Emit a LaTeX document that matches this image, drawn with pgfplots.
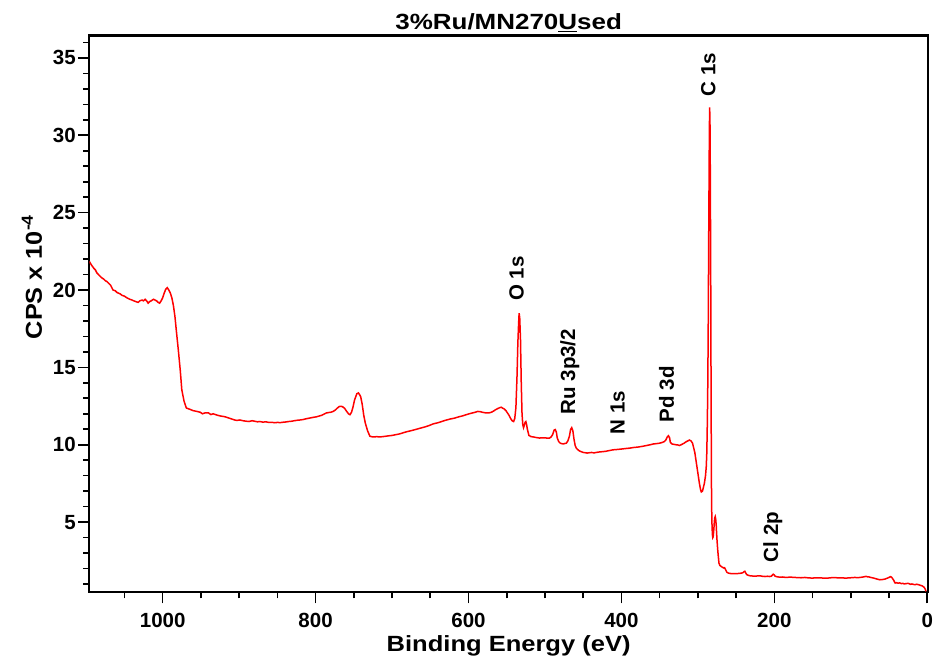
\documentclass[border=0pt]{standalone}
\usepackage{fontspec}
\setmainfont{Liberation Sans}
\usepackage{graphicx}
\usepackage{pgfplots}
\pgfplotsset{compat=1.18}
\begin{document}
\begin{tikzpicture}
\begin{axis}[
  name=ax,
  scale only axis,
  width=838.7pt, height=556.8pt,
  xmin=-1, xmax=1096, x dir=reverse,
  ymin=0.46, ymax=36.45,
  xtick={0,200,...,1000},
  minor xtick={0,50,...,1050},
  ytick={5,10,...,35},
  minor ytick={1,2,...,36},
  tick pos=left,
  tick align=outside,
  major tick length=11pt,
  minor tick length=6pt,
  every tick/.style={black, line width=1.6pt},
  axis line style={line width=2.2pt},
  /pgf/number format/assume math mode=true,
  /pgf/number format/1000 sep={},
  ticklabel style={font=\bfseries\fontsize{20.5}{24}\selectfont},
  xticklabel style={yshift=-6pt},
  yticklabel style={xshift=1pt},
  xlabel={\scalebox{1.16}[1]{Binding Energy (eV)}},
  ylabel={\scalebox{1.1}[1]{CPS x 10\textsuperscript{-4}}},
  xlabel style={font=\bfseries\fontsize{22}{24}\selectfont, yshift=-1pt},
  ylabel style={font=\bfseries\fontsize{23}{24}\selectfont, yshift=4pt, xshift=37pt},
  title={\scalebox{1.18}[1]{3\%Ru/MN270\underline{U}sed}},
  title style={font=\bfseries\fontsize{22}{22}\selectfont, yshift=-6pt},
]
\addplot[red, line width=1.5pt] coordinates {
(1096,21.85)(1093,21.6)(1090,21.4)(1088,21.3)(1086,21.1)(1083,20.95)(1080,20.8)(1077,20.7)(1075,20.6)(1073,20.55)(1071,20.45)(1068,20.3)(1065,20.0)(1062,19.95)(1060,19.85)(1058,19.8)(1056,19.76)(1053,19.65)(1050,19.6)(1047,19.5)(1043,19.4)(1040,19.35)(1038,19.3)(1035,19.25)(1032,19.2)(1030,19.3)(1027,19.35)(1025,19.3)(1023,19.4)(1021,19.3)(1019,19.15)(1017,19.25)(1015,19.3)(1012,19.4)(1010,19.35)(1008,19.3)(1006,19.2)(1004,19.15)(1002,19.3)(1000,19.5)(998,19.8)(996,20.05)(994,20.15)(992,20.0)(990,19.8)(988,19.5)(986,19.0)(984,18.3)(982,17.3)(979.5,16.1)(977,14.8)(975,13.55)(972,12.8)(969,12.37)(965,12.3)(960,12.2)(955,12.15)(951,12.1)(948,12.0)(945,12.05)(940,12.05)(937,11.95)(934,12.0)(928,11.9)(924,11.85)(921,11.83)(918,11.8)(915,11.75)(912,11.7)(909,11.65)(906,11.6)(903,11.57)(899,11.6)(895,11.55)(891,11.52)(887,11.5)(883,11.55)(880,11.52)(876,11.48)(873,11.5)(869,11.46)(865,11.48)(861,11.44)(857,11.45)(854,11.42)(850,11.44)(846,11.43)(843,11.45)(839,11.47)(835,11.5)(831,11.52)(828,11.55)(824,11.58)(820,11.6)(816,11.63)(812,11.68)(808,11.72)(805,11.75)(802,11.78)(799,11.8)(795,11.86)(792,11.9)(789,11.98)(786,12.05)(783,12.08)(780,12.1)(777,12.15)(774,12.25)(772,12.35)(769,12.47)(766,12.48)(764,12.43)(762,12.35)(760,12.2)(757,12.0)(755,11.94)(753,12.1)(751,12.45)(749,12.9)(746,13.3)(744,13.35)(742,13.2)(741,13.1)(739,12.6)(737,11.9)(735,11.4)(732,10.9)(729,10.55)(725,10.5)(720,10.52)(716,10.5)(711,10.53)(705,10.57)(700,10.6)(695,10.65)(690,10.7)(685,10.78)(680,10.85)(674,10.92)(668,11.0)(663,11.07)(657,11.15)(651,11.25)(646,11.35)(640,11.42)(635,11.5)(630,11.58)(624,11.66)(618,11.72)(613,11.8)(608,11.86)(603,11.94)(599,12.0)(595,12.05)(591,12.1)(588,12.15)(585,12.14)(582,12.1)(579,12.07)(576,12.05)(573,12.06)(570,12.1)(567,12.18)(565,12.25)(562,12.33)(559,12.4)(557,12.42)(555,12.35)(553,12.3)(551,12.2)(549,12.05)(547,11.9)(545,11.7)(543,11.55)(541,11.5)(539.5,11.7)(538,12.4)(536.5,14.5)(535.5,16.5)(534.5,17.8)(533.8,18.5)(533,18.2)(532,16.8)(531,14.0)(530,12.0)(529,11.3)(528,11.1)(527,11.25)(526,11.45)(525,11.5)(524,11.3)(523,11.0)(521,10.6)(518,10.52)(515,10.5)(511,10.46)(507,10.43)(503,10.45)(500,10.45)(497,10.42)(494,10.43)(492,10.5)(490,10.65)(488,10.95)(486.5,10.98)(485,10.8)(484,10.45)(482,10.2)(480,10.1)(478,10.07)(476,10.05)(474,10.08)(472,10.1)(470,10.25)(468,10.55)(466.5,10.98)(465,11.1)(463.5,10.9)(462,10.35)(460.5,9.95)(459,9.78)(457,9.68)(455,9.6)(452,9.54)(450,9.5)(447,9.48)(445,9.46)(442,9.48)(439,9.5)(436,9.47)(433,9.5)(429,9.53)(425,9.55)(421,9.57)(418,9.6)(414,9.64)(411,9.67)(406,9.69)(400,9.72)(395,9.75)(389,9.78)(384,9.82)(378,9.85)(372,9.9)(367,9.95)(362,10.0)(358,10.05)(354,10.07)(350,10.1)(347,10.14)(344,10.2)(342,10.3)(340,10.5)(338.5,10.58)(337,10.45)(336,10.15)(334,10.05)(331,10.02)(329,10.0)(326,9.98)(324,9.95)(321,10.02)(318,10.1)(315,10.2)(313,10.25)(311,10.3)(309,10.25)(307,10.1)(305.5,9.8)(304,9.5)(302.5,9.0)(301,8.5)(299.5,8.0)(298,7.5)(296.5,7.1)(295.5,6.95)(294,7.0)(293,7.2)(291.5,7.5)(290,8.0)(289,8.6)(288.3,9.5)(287.6,11.5)(287,14)(286.4,18)(286,22)(285.5,26)(285,30)(284.6,31.8)(284.2,31)(284,30)(283.6,26)(283.2,21)(282.9,16)(282.6,12)(282.3,8)(282,6)(281.5,4.8)(281,4.2)(280.5,4.0)(280,4.05)(279.5,4.3)(279,4.6)(278.5,5.0)(278,5.25)(277.3,5.35)(276.7,5.2)(276,4.8)(275.5,4.3)(275,3.86)(274.2,3.3)(273.5,2.9)(272.4,2.35)(271.3,2.2)(270,2.15)(268,2.08)(266,2.03)(265,2.05)(264,1.95)(263,1.85)(262,1.75)(260,1.7)(258,1.68)(255,1.66)(252,1.66)(249,1.67)(246,1.68)(243,1.7)(241,1.73)(239.5,1.8)(238.5,1.82)(237.3,1.7)(236,1.6)(234,1.56)(232,1.53)(228,1.51)(225,1.5)(222,1.52)(218,1.52)(215,1.49)(212,1.48)(209,1.5)(206,1.48)(204,1.5)(203,1.55)(201.5,1.63)(200,1.58)(199,1.5)(196,1.46)(193,1.44)(189,1.45)(185,1.42)(180,1.44)(175,1.43)(170,1.41)(165,1.4)(160,1.42)(155,1.39)(150,1.38)(145,1.4)(140,1.4)(135,1.37)(130,1.38)(124,1.41)(118,1.4)(112,1.39)(106,1.38)(100,1.4)(95,1.42)(90,1.41)(85,1.44)(82,1.47)(80,1.49)(78,1.46)(76,1.45)(73,1.41)(70,1.38)(66,1.32)(62,1.27)(58,1.29)(55,1.32)(52,1.38)(50,1.42)(48,1.47)(46.5,1.43)(45,1.32)(44,1.25)(43,1.15)(42,1.06)(40,1.08)(38,1.05)(36,1.07)(34,1.02)(32,1.04)(30,1.0)(28,1.02)(25,1.04)(22,0.98)(20,1.0)(18,0.97)(16,0.95)(14,0.98)(12,0.96)(10,0.93)(8,0.9)(6.5,0.87)(5,0.82)(4,0.78)(3,0.7)(2,0.58)(1.5,0.52)
};
\begin{scope}[every node/.style={rotate=90, anchor=west, inner sep=0pt, font=\bfseries\fontsize{20.5}{22}\selectfont}]
\node at (axis cs:537,19.3) {O 1s};
\node at (axis cs:467.5,11.95) {Ru 3p3/2};
\node at (axis cs:405,10.65) {N 1s};
\node at (axis cs:341,11.45) {Pd 3d};
\node at (axis cs:286.5,32.5) {C 1s};
\node at (axis cs:202,2.4) {Cl 2p};
\end{scope}
\end{axis}
\pgfresetboundingbox
\useasboundingbox ([shift={(-89.3pt,-66.7pt)}]ax.south west) rectangle ([shift={(10pt,35.5pt)}]ax.north east);
\end{tikzpicture}
\end{document}
